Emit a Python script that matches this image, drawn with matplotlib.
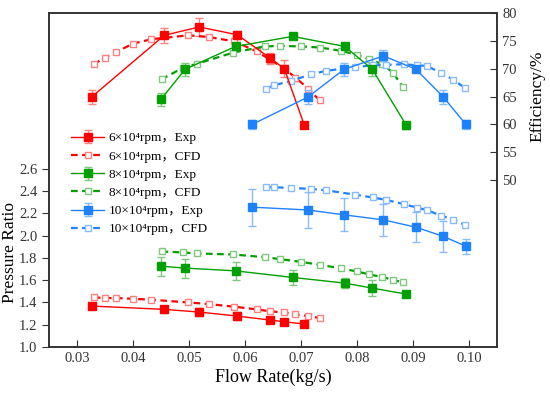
import numpy as np
import matplotlib.pyplot as plt

plt.rcParams['font.family'] = ['Liberation Serif', 'DejaVu Serif', 'Noto Sans CJK SC']
plt.rcParams['mathtext.fontset'] = 'stix'

# 6x10^4 rpm
red_exp_x = [0.0326, 0.0456, 0.0518, 0.0586, 0.0645, 0.0670, 0.0706]
red_exp_pr = [1.368, 1.338, 1.314, 1.278, 1.242, 1.227, 1.206]
red_exp_pr_err = [0.02, 0.03, 0.035, 0.035, 0.02, 0.015, 0.015]
red_exp_eff = [64.9, 76.0, 77.5, 76.1, 71.9, 70.0, 59.8]
red_exp_eff_err = [1.2, 1.4, 1.6, 0.7, 1.0, 1.5, 0.0]

red_cfd_x = [0.0330, 0.0350, 0.0370, 0.0400, 0.0433, 0.0499, 0.0535,
             0.0581, 0.0621, 0.0645, 0.0669, 0.0690, 0.0713, 0.0733]
red_cfd_pr = [1.446, 1.440, 1.440, 1.433, 1.425, 1.400, 1.386,
              1.362, 1.338, 1.320, 1.311, 1.293, 1.278, 1.260]
red_cfd_eff = [70.8, 72.0, 73.0, 74.5, 75.3, 76.0, 75.7,
               74.9, 73.1, 71.6, 70.1, 68.4, 66.4, 64.3]

# 8x10^4 rpm
green_exp_x = [0.0450, 0.0493, 0.0583, 0.0685, 0.0778, 0.0827, 0.0888]
green_exp_pr = [1.726, 1.709, 1.684, 1.625, 1.574, 1.529, 1.475]
green_exp_pr_err = [0.085, 0.085, 0.08, 0.07, 0.045, 0.07, 0.015]
green_exp_eff = [64.5, 69.9, 74.0, 75.8, 74.0, 69.9, 59.8]
green_exp_eff_err = [1.2, 1.2, 0.6, 0.3, 0.3, 1.2, 0.6]

green_cfd_x = [0.0451, 0.0490, 0.0515, 0.0579, 0.0635, 0.0663, 0.0700,
               0.0734, 0.0772, 0.0799, 0.0822, 0.0845, 0.0864, 0.0881]
green_cfd_pr = [1.858, 1.849, 1.840, 1.831, 1.807, 1.789, 1.765,
                1.738, 1.706, 1.679, 1.652, 1.628, 1.604, 1.580]
green_cfd_eff = [68.1, 70.2, 70.9, 72.9, 74.0, 74.1, 74.0,
                 73.8, 73.2, 72.5, 71.7, 70.8, 69.3, 66.8]

# 10x10^4 rpm
blue_exp_x = [0.0613, 0.0712, 0.0777, 0.0847, 0.0905, 0.0954, 0.0994]
blue_exp_pr = [2.256, 2.231, 2.187, 2.142, 2.076, 1.993, 1.906]
blue_exp_pr_err = [0.166, 0.158, 0.149, 0.145, 0.136, 0.142, 0.067]
blue_exp_eff = [60.0, 64.9, 69.9, 72.3, 69.9, 64.9, 60.0]
blue_exp_eff_err = [0.8, 1.2, 1.2, 1.0, 0.4, 1.2, 0.8]

blue_cfd_x = [0.0637, 0.0651, 0.0682, 0.0718, 0.0744, 0.0796, 0.0828,
              0.0852, 0.0884, 0.0906, 0.0924, 0.0949, 0.0972, 0.0993]
blue_cfd_pr = [2.435, 2.435, 2.429, 2.420, 2.408, 2.369, 2.343,
               2.321, 2.283, 2.253, 2.231, 2.181, 2.145, 2.094]
blue_cfd_eff = [66.4, 67.0, 67.8, 69.0, 69.6, 70.3, 70.6,
                70.7, 70.8, 70.6, 70.5, 69.3, 68.0, 66.5]

speeds = ['6', '8', '10']
colors = ['#ff0000', '#00a000', '#1e82ff']
light = ['#ff8080', '#80c880', '#88bbff']

exp_sets = [(red_exp_x, red_exp_pr, red_exp_pr_err, red_exp_eff, red_exp_eff_err),
            (green_exp_x, green_exp_pr, green_exp_pr_err, green_exp_eff, green_exp_eff_err),
            (blue_exp_x, blue_exp_pr, blue_exp_pr_err, blue_exp_eff, blue_exp_eff_err)]
cfd_sets = [(red_cfd_x, red_cfd_pr, red_cfd_eff),
            (green_cfd_x, green_cfd_pr, green_cfd_eff),
            (blue_cfd_x, blue_cfd_pr, blue_cfd_eff)]

fig = plt.figure(figsize=(5.5, 3.95), dpi=100)
ax = fig.add_axes([0.089, 0.1215, 0.815, 0.8455])
ax2 = ax.twinx()

handles = []
for i in range(3):
    ex, epr, eprerr, eeff, eefferr = exp_sets[i]
    cx, cpr, ceff = cfd_sets[i]
    c, lc = colors[i], light[i]
    # pressure ratio
    h1 = ax.errorbar(ex, epr, yerr=eprerr, color=c, lw=1, marker='s', ms=6,
                     ecolor=lc, elinewidth=1, capsize=3, capthick=1,
                     label=speeds[i] + '×10⁴rpm，Exp')
    h2, = ax.plot(cx, cpr, color=c, lw=1.6, ls=(0, (3, 2)), marker='s', ms=4.5,
                  mfc='white', mec=lc, mew=1,
                  label=speeds[i] + '×10⁴rpm，CFD')
    # efficiency
    ax2.errorbar(ex, eeff, yerr=eefferr, color=c, lw=1, marker='s', ms=6,
                 ecolor=lc, elinewidth=1, capsize=3, capthick=1)
    ax2.plot(cx, ceff, color=c, lw=1.6, ls=(0, (3, 2)), marker='s', ms=4.5,
             mfc='white', mec=lc, mew=1)
    handles += [h1, h2]

ax.set_xlim(0.025, 0.105)
ax.set_ylim(1.0, 4.0)
ax.set_yticks(np.arange(1.0, 2.61, 0.2))
ax.set_xticks(np.arange(0.03, 0.101, 0.01))
ax.set_xticklabels(['0.03', '0.04', '0.05', '0.06', '0.07', '0.08', '0.09', '0.10'])
ax.set_yticklabels(['%.1f' % v for v in np.arange(1.0, 2.61, 0.2)])
ax2.set_ylim(20, 80)
ax2.set_yticks(np.arange(50, 81, 5))

ax.tick_params(axis='x', direction='in', length=5, labelsize=10.5, colors='#333333')
ax.tick_params(axis='y', direction='out', length=5, labelsize=10.5, colors='#333333')
ax2.tick_params(axis='y', direction='in', length=5, labelsize=10.5, colors='#333333')
for a in (ax, ax2):
    for s in a.spines.values():
        s.set_linewidth(1.2)
        s.set_color('#333333')

ax.set_xlabel('Flow Rate(kg/s)', fontsize=13, labelpad=3)
ax.set_ylabel('Pressure Ratio', fontsize=12.5)
ax.yaxis.set_label_coords(-0.068, 0.284)
ax2.set_ylabel('Efficiency/%', fontsize=12.5)
ax2.yaxis.set_label_coords(1.072, 0.75)

ax2.legend(handles=handles, loc='upper left', bbox_to_anchor=(0.05, 0.643),
           frameon=False, fontsize=9.5, handlelength=2.5, handletextpad=0.3,
           labelspacing=0.45, borderpad=0, borderaxespad=0)

fig.savefig('out.png', dpi=100)
